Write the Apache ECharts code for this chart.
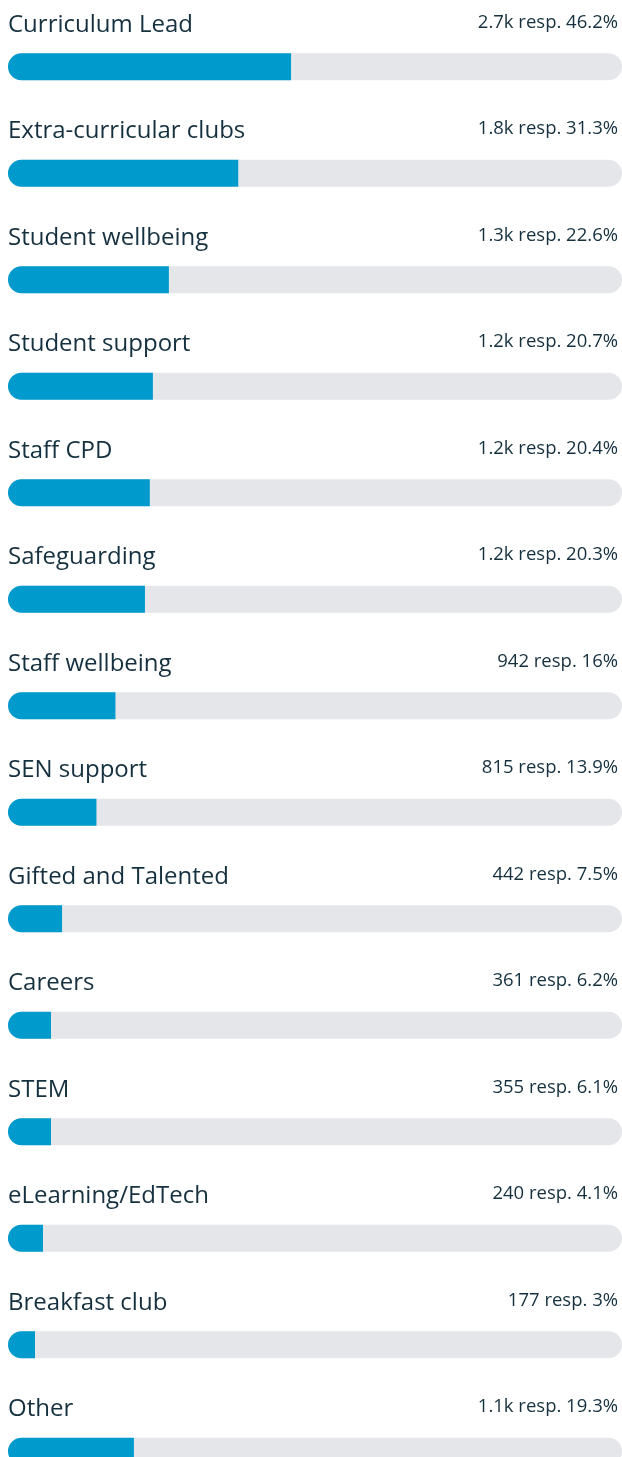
<!DOCTYPE html>
<html>
<head>
<meta charset="utf-8">
<script src="https://cdn.jsdelivr.net/npm/echarts@6/dist/echarts.min.js"></script>
<style>
html,body{margin:0;padding:0;background:#fff;}
#chart{width:622px;height:1457px;}
</style>
</head>
<body>
<div id="chart"></div>
<script>
var categories = ["Curriculum Lead","Extra-curricular clubs","Student wellbeing","Student support","Staff CPD","Safeguarding","Staff wellbeing","SEN support","Gifted and Talented","Careers","STEM","eLearning/EdTech","Breakfast club","Other"];
var responses = ["2.7k","1.8k","1.3k","1.2k","1.2k","1.2k","942","815","442","361","355","240","177","1.1k"];
var percents = ["46.2","31.3","22.6","20.7","20.4","20.3","16","13.9","7.5","6.2","6.1","4.1","3","19.3"];
// filled share of each track as drawn (percent of track width)
var fillShare = [46.1,37.5,26.2,23.6,23.1,22.3,17.5,14.4,8.8,7.0,7.0,5.7,4.4,20.5];
var trackValue = categories.map(function(){return 100;});

var FONT = '"Open Sans", "Noto Sans", sans-serif';
var TEXT = '#15303f';

var chart = echarts.init(document.getElementById('chart'), null, {renderer:'canvas'});
chart.setOption({
  animation:false,
  grid:{left:8, right:0, top:13.55, height:1491, outerBoundsMode:'none', containLabel:false},
  xAxis:{type:'value', min:0, max:100, show:false},
  yAxis:{type:'category', data:categories, inverse:true, show:false},
  series:[
    {
      type:'bar', data:trackValue, barWidth:27, silent:true, z:1,
      itemStyle:{color:'#e5e6ea', borderRadius:13.5},
      label:{show:true, position:[0,-28.5], align:'left', verticalAlign:'middle',
        fontFamily:FONT, fontSize:24, color:TEXT,
        formatter:function(p){return categories[p.dataIndex];}}
    },
    {
      type:'bar', data:fillShare, barWidth:27, barGap:'-100%', silent:true, z:2,
      itemStyle:{color:'#009acc', borderRadius:[13.5,0,0,13.5]}
    },
    {
      type:'bar', data:trackValue, barWidth:27, barGap:'-100%', silent:true, z:3,
      itemStyle:{color:'rgba(0,0,0,0)'},
      label:{show:true, position:['100%',-31], align:'right', verticalAlign:'middle', offset:[-4,0],
        fontFamily:FONT, fontSize:18.5, color:TEXT,
        formatter:function(p){return responses[p.dataIndex]+' resp. '+percents[p.dataIndex]+'%';}}
    }
  ]
});
</script>
</body>
</html>
